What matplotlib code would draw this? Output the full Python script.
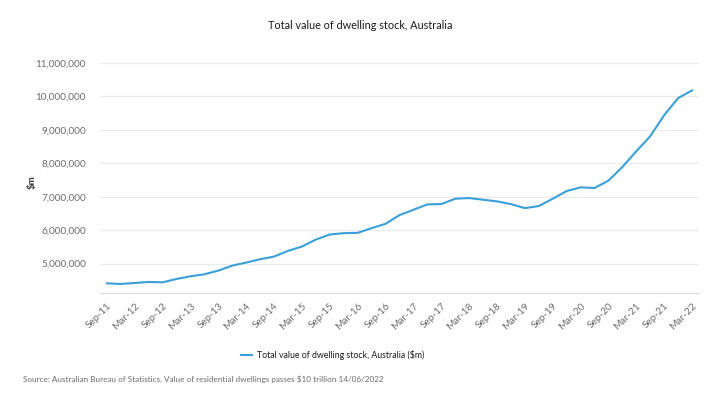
import matplotlib
matplotlib.use("Agg")
import matplotlib.pyplot as plt
import matplotlib.ticker as mticker
from matplotlib.lines import Line2D

plt.rcParams['font.family'] = ['Lato', 'DejaVu Sans']

quarters = ["Sep-11","Dec-11","Mar-12","Jun-12","Sep-12","Dec-12","Mar-13","Jun-13",
            "Sep-13","Dec-13","Mar-14","Jun-14","Sep-14","Dec-14","Mar-15","Jun-15",
            "Sep-15","Dec-15","Mar-16","Jun-16","Sep-16","Dec-16","Mar-17","Jun-17",
            "Sep-17","Dec-17","Mar-18","Jun-18","Sep-18","Dec-18","Mar-19","Jun-19",
            "Sep-19","Dec-19","Mar-20","Jun-20","Sep-20","Dec-20","Mar-21","Jun-21",
            "Sep-21","Dec-21","Mar-22"]
values = [4410000, 4390000, 4420000, 4450000, 4440000, 4540000, 4620000, 4680000,
          4790000, 4940000, 5030000, 5130000, 5210000, 5380000, 5510000, 5720000,
          5870000, 5910000, 5920000, 6060000, 6190000, 6450000, 6610000, 6770000,
          6780000, 6940000, 6960000, 6910000, 6860000, 6780000, 6660000, 6720000,
          6940000, 7170000, 7280000, 7260000, 7480000, 7890000, 8360000, 8810000,
          9440000, 9950000, 10180000]
yticks = [5000000, 6000000, 7000000, 8000000, 9000000, 10000000, 11000000]
series_name = "Total value of dwelling stock, Australia ($m)"
title = "Total value of dwelling stock, Australia"
source = "Source: Australian Bureau of Statistics, Value of residential dwellings passes $10 trillion 14/06/2022"

line_color = "#3a9fdb"
grey = "#6b6b6b"

fig = plt.figure(figsize=(7.14, 4.0), dpi=100)
ax = fig.add_axes([0.140, 0.2675, 0.839, 0.575])

x = list(range(len(quarters)))
ax.plot(x, values, color=line_color, lw=1.5, solid_joinstyle='round')

ax.set_xlim(-0.5, len(quarters) - 0.5)
ax.set_ylim(4120000, 11000000)
ax.set_yticks(yticks)
ax.yaxis.set_major_formatter(mticker.FuncFormatter(lambda v, p: f"{int(v):,}"))
ax.set_xticks(x[::2])
ax.set_xticklabels(quarters[::2], rotation=45, ha='right', rotation_mode='anchor')

ax.grid(axis='y', color='#ebebeb', lw=0.9)
ax.set_axisbelow(True)
for s in ['top', 'right', 'left']:
    ax.spines[s].set_visible(False)
ax.spines['bottom'].set_color('#d9d9d9')
ax.tick_params(axis='both', length=0, labelsize=7.2, colors=grey)
ax.tick_params(axis='y', pad=10)
ax.tick_params(axis='x', pad=6)

fig.text(0.045, 0.545, "$m", rotation=90, ha='center', va='center',
         fontsize=7, color='#333333', fontweight='bold')

fig.text(0.505, 0.937, title, ha='center', va='center', fontsize=7.8, color='#1a1a1a')

handle = Line2D([], [], color=line_color, lw=1.5)
fig.legend([handle], [series_name], loc='center left', bbox_to_anchor=(0.338, 0.113),
           frameon=False, fontsize=6.3, handlelength=1.2, handletextpad=0.6,
           labelcolor='#1a1a1a', borderpad=0, borderaxespad=0)

fig.text(0.032, 0.052, source, ha='left', va='center', fontsize=5.9, color=grey)

fig.savefig("out.png", dpi=100)
